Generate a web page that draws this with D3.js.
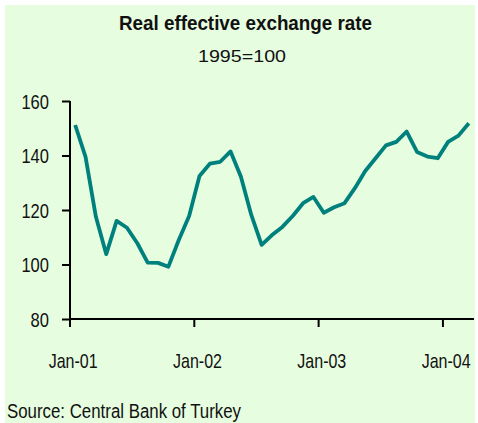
<!DOCTYPE html>
<html>
<head>
<meta charset="utf-8">
<script src="https://cdn.jsdelivr.net/npm/d3@7"></script>
<style>
  html, body { margin: 0; padding: 0; background: #ffffff; }
  svg { display: block; }
  text { font-family: "Liberation Sans", Arial, sans-serif; fill: #111; }
</style>
</head>
<body>
<svg id="chart" width="478" height="423"></svg>
<script>
// ---- data ----
const months = [
  "Jan-01","Feb-01","Mar-01","Apr-01","May-01","Jun-01","Jul-01","Aug-01","Sep-01","Oct-01","Nov-01","Dec-01",
  "Jan-02","Feb-02","Mar-02","Apr-02","May-02","Jun-02","Jul-02","Aug-02","Sep-02","Oct-02","Nov-02","Dec-02",
  "Jan-03","Feb-03","Mar-03","Apr-03","May-03","Jun-03","Jul-03","Aug-03","Sep-03","Oct-03","Nov-03","Dec-03",
  "Jan-04","Feb-04","Mar-04"
];
const reer = [
  151.2, 139.5, 117.5, 103.8, 116.0, 113.5, 107.8, 100.7, 100.6, 99.2, 109.0, 117.8,
  132.5, 137.0, 137.7, 141.5, 132.2, 118.2, 107.2, 110.8, 113.8, 117.8, 122.5, 124.8,
  119.0, 121.0, 122.5, 128.0, 134.3, 139.0, 143.7, 145.0, 148.8, 141.3, 139.6, 139.0,
  145.0, 147.3, 151.8
];
const xTickLabels = ["Jan-01","Jan-02","Jan-03","Jan-04"];
const yTicks = [80, 100, 120, 140, 160];
const title = "Real effective exchange rate";
const subtitle = "1995=100";
const source = "Source: Central Bank of Turkey";

// ---- layout ----
const svg = d3.select("#chart");
const plot = { left: 70, right: 474, top: 101, bottom: 319 };

svg.append("rect")
  .attr("x", 5).attr("y", 5).attr("width", 470).attr("height", 418)
  .attr("fill", "#e7fde0");

const x = d3.scaleBand().domain(months).range([plot.left, plot.right]).padding(0);
const xBoundary = i => plot.left + i * x.step();
const y = d3.scaleLinear().domain([80, 160]).range([plot.bottom, plot.top]);

// titles
svg.append("text")
  .attr("x", 245.5).attr("y", 30)
  .attr("text-anchor", "middle")
  .attr("font-size", 20.5).attr("font-weight", "bold")
  .attr("textLength", 253).attr("lengthAdjust", "spacingAndGlyphs")
  .text(title);
svg.append("text")
  .attr("x", 242).attr("y", 62)
  .attr("text-anchor", "middle")
  .attr("font-size", 16.5)
  .attr("textLength", 88).attr("lengthAdjust", "spacingAndGlyphs")
  .text(subtitle);

// y axis
const yAxis = d3.axisLeft(y).tickValues(yTicks).tickSize(8).tickPadding(13).tickFormat(d3.format("d"));
const gy = svg.append("g").attr("transform", `translate(${plot.left},0)`).call(yAxis);
gy.select(".domain").remove();
gy.selectAll(".tick line").attr("stroke", "#000").attr("stroke-width", 2);
gy.selectAll(".tick text")
  .attr("font-size", 20.5)
  .attr("font-family", "\"Liberation Sans\", Arial, sans-serif")
  .attr("fill", "#111")
  .attr("dy", "0.36em")
  .each(function(d) {
    const s = String(d);
    d3.select(this).attr("textLength", s.length * 9.2).attr("lengthAdjust", "spacingAndGlyphs");
  });

// x axis ticks at year boundaries
const tickIdx = xTickLabels.map(l => months.indexOf(l));
svg.append("g").selectAll("line").data(tickIdx).join("line")
  .attr("x1", i => xBoundary(i)).attr("x2", i => xBoundary(i))
  .attr("y1", plot.bottom).attr("y2", plot.bottom + 8)
  .attr("stroke", "#000").attr("stroke-width", 2);

// axis lines
svg.append("line")
  .attr("x1", plot.left).attr("x2", plot.left)
  .attr("y1", plot.top).attr("y2", plot.bottom)
  .attr("stroke", "#000").attr("stroke-width", 2);
svg.append("line")
  .attr("x1", plot.left - 1).attr("x2", plot.right)
  .attr("y1", plot.bottom).attr("y2", plot.bottom)
  .attr("stroke", "#000").attr("stroke-width", 2);

// x labels centred on the January categories (horizontally condensed via scale)
const xLab = svg.append("g").selectAll("text").data(xTickLabels).join("text")
  .attr("text-anchor", "middle")
  .attr("font-size", 20.5)
  .text(d => d);
xLab.each(function(d) {
  const w = this.getComputedTextLength() || 58;
  const sx = 49 / w;
  const cx = x(d) + x.bandwidth() / 2 - 2;
  d3.select(this).attr("transform", `translate(${cx},368) scale(${sx},1)`);
});

// line
const line = d3.line()
  .x((d, i) => x(months[i]) + x.bandwidth() / 2)
  .y(d => y(d));
svg.append("path")
  .datum(reer)
  .attr("fill", "none")
  .attr("stroke", "#00807c")
  .attr("stroke-width", 3.8)
  .attr("stroke-linejoin", "round")
  .attr("d", line);

// source
svg.append("text")
  .attr("x", 7).attr("y", 418)
  .attr("font-size", 19.5)
  .attr("textLength", 234).attr("lengthAdjust", "spacingAndGlyphs")
  .text(source);
</script>
</body>
</html>
